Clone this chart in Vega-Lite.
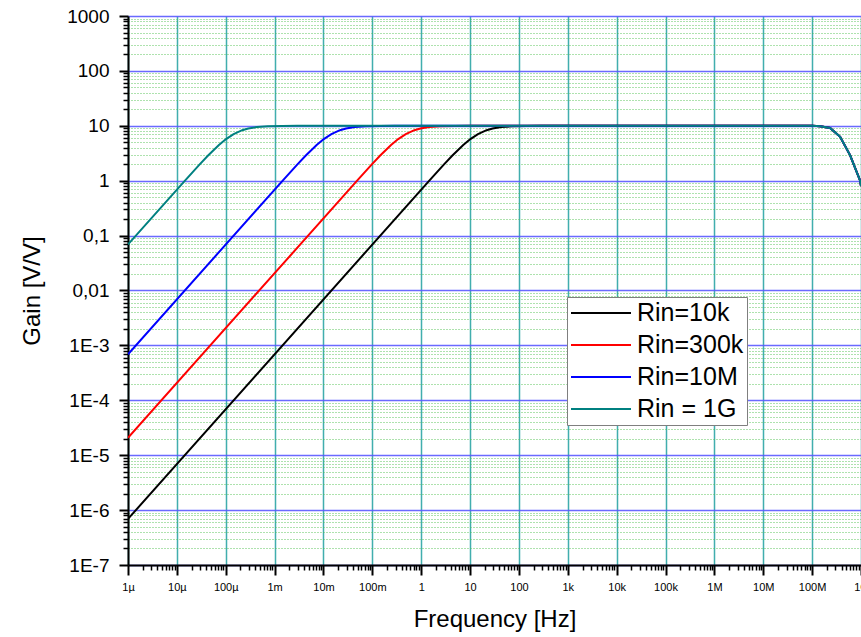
{
  "$schema": "https://vega.github.io/schema/vega-lite/v6.json",
  "width": 733,
  "height": 549,
  "autosize": {"type": "none"},
  "padding": {"left": 128, "top": 16, "right": 0, "bottom": 72},
  "background": "white",
  "config": {
    "view": {"stroke": null},
    "font": "Liberation Sans",
    "legend": {
      "orient": "none",
      "legendX": 439,
      "legendY": 281,
      "symbolType": "M-2.5,0H2.5",
      "symbolSize": 576,
      "symbolOffset": 18,
      "symbolStrokeWidth": 2,
      "labelFontSize": 25,
      "labelColor": "black",
      "labelFont": "Liberation Sans",
      "padding": 3,
      "rowPadding": 6,
      "labelOffset": 23,
      "strokeColor": "#7f7f7f",
      "fillColor": "white",
      "cornerRadius": 0
    }
  },
  "data": {"values": [
    {"s": "Rin=10k", "f": 1e-6, "g": 6.9e-7},
    {"s": "Rin=10k", "f": 1.45, "g": 0.995},
    {"s": "Rin=10k", "f": 2.9, "g": 1.961},
    {"s": "Rin=10k", "f": 4.35, "g": 2.873},
    {"s": "Rin=10k", "f": 7.25, "g": 4.472},
    {"s": "Rin=10k", "f": 10.15, "g": 5.735},
    {"s": "Rin=10k", "f": 14.5, "g": 7.071},
    {"s": "Rin=10k", "f": 21.75, "g": 8.321},
    {"s": "Rin=10k", "f": 29, "g": 8.944},
    {"s": "Rin=10k", "f": 43.5, "g": 9.487},
    {"s": "Rin=10k", "f": 72.5, "g": 9.806},
    {"s": "Rin=10k", "f": 145, "g": 9.95},
    {"s": "Rin=10k", "f": 290, "g": 9.988},
    {"s": "Rin=10k", "f": 725, "g": 9.998},
    {"s": "Rin=10k", "f": 1e8, "g": 9.97},
    {"s": "Rin=10k", "f": 1.46e8, "g": 9.8},
    {"s": "Rin=10k", "f": 2.33e8, "g": 9.1},
    {"s": "Rin=10k", "f": 3.74e8, "g": 6.3},
    {"s": "Rin=10k", "f": 6e8, "g": 2.9},
    {"s": "Rin=10k", "f": 9.6e8, "g": 1.0},
    {"s": "Rin=10k", "f": 1e9, "g": 0.8},

    {"s": "Rin=300k", "f": 1e-6, "g": 2.07e-5},
    {"s": "Rin=300k", "f": 0.0483, "g": 0.995},
    {"s": "Rin=300k", "f": 0.0966, "g": 1.961},
    {"s": "Rin=300k", "f": 0.1449, "g": 2.873},
    {"s": "Rin=300k", "f": 0.2415, "g": 4.472},
    {"s": "Rin=300k", "f": 0.3381, "g": 5.735},
    {"s": "Rin=300k", "f": 0.483, "g": 7.071},
    {"s": "Rin=300k", "f": 0.7245, "g": 8.321},
    {"s": "Rin=300k", "f": 0.966, "g": 8.944},
    {"s": "Rin=300k", "f": 1.449, "g": 9.487},
    {"s": "Rin=300k", "f": 2.415, "g": 9.806},
    {"s": "Rin=300k", "f": 4.83, "g": 9.95},
    {"s": "Rin=300k", "f": 9.66, "g": 9.988},
    {"s": "Rin=300k", "f": 24.15, "g": 9.998},
    {"s": "Rin=300k", "f": 1e8, "g": 9.97},
    {"s": "Rin=300k", "f": 1.46e8, "g": 9.8},
    {"s": "Rin=300k", "f": 2.33e8, "g": 9.1},
    {"s": "Rin=300k", "f": 3.74e8, "g": 6.3},
    {"s": "Rin=300k", "f": 6e8, "g": 2.9},
    {"s": "Rin=300k", "f": 9.6e8, "g": 1.0},
    {"s": "Rin=300k", "f": 1e9, "g": 0.8},

    {"s": "Rin=10M", "f": 1e-6, "g": 6.9e-4},
    {"s": "Rin=10M", "f": 0.00145, "g": 0.995},
    {"s": "Rin=10M", "f": 0.0029, "g": 1.961},
    {"s": "Rin=10M", "f": 0.00435, "g": 2.873},
    {"s": "Rin=10M", "f": 0.00725, "g": 4.472},
    {"s": "Rin=10M", "f": 0.01015, "g": 5.735},
    {"s": "Rin=10M", "f": 0.0145, "g": 7.071},
    {"s": "Rin=10M", "f": 0.02175, "g": 8.321},
    {"s": "Rin=10M", "f": 0.029, "g": 8.944},
    {"s": "Rin=10M", "f": 0.0435, "g": 9.487},
    {"s": "Rin=10M", "f": 0.0725, "g": 9.806},
    {"s": "Rin=10M", "f": 0.145, "g": 9.95},
    {"s": "Rin=10M", "f": 0.29, "g": 9.988},
    {"s": "Rin=10M", "f": 0.725, "g": 9.998},
    {"s": "Rin=10M", "f": 1e8, "g": 9.97},
    {"s": "Rin=10M", "f": 1.46e8, "g": 9.8},
    {"s": "Rin=10M", "f": 2.33e8, "g": 9.1},
    {"s": "Rin=10M", "f": 3.74e8, "g": 6.3},
    {"s": "Rin=10M", "f": 6e8, "g": 2.9},
    {"s": "Rin=10M", "f": 9.6e8, "g": 1.0},
    {"s": "Rin=10M", "f": 1e9, "g": 0.8},

    {"s": "Rin = 1G", "f": 1e-6, "g": 0.069},
    {"s": "Rin = 1G", "f": 1.45e-5, "g": 0.995},
    {"s": "Rin = 1G", "f": 2.9e-5, "g": 1.961},
    {"s": "Rin = 1G", "f": 4.35e-5, "g": 2.873},
    {"s": "Rin = 1G", "f": 7.25e-5, "g": 4.472},
    {"s": "Rin = 1G", "f": 1.015e-4, "g": 5.735},
    {"s": "Rin = 1G", "f": 1.45e-4, "g": 7.071},
    {"s": "Rin = 1G", "f": 2.175e-4, "g": 8.321},
    {"s": "Rin = 1G", "f": 2.9e-4, "g": 8.944},
    {"s": "Rin = 1G", "f": 4.35e-4, "g": 9.487},
    {"s": "Rin = 1G", "f": 7.25e-4, "g": 9.806},
    {"s": "Rin = 1G", "f": 1.45e-3, "g": 9.95},
    {"s": "Rin = 1G", "f": 2.9e-3, "g": 9.988},
    {"s": "Rin = 1G", "f": 7.25e-3, "g": 9.998},
    {"s": "Rin = 1G", "f": 1e8, "g": 9.97},
    {"s": "Rin = 1G", "f": 1.46e8, "g": 9.8},
    {"s": "Rin = 1G", "f": 2.33e8, "g": 9.1},
    {"s": "Rin = 1G", "f": 3.74e8, "g": 6.3},
    {"s": "Rin = 1G", "f": 6e8, "g": 2.9},
    {"s": "Rin = 1G", "f": 9.6e8, "g": 1.0},
    {"s": "Rin = 1G", "f": 1e9, "g": 0.8}
  ]},
  "resolve": {"axis": {"x": "independent", "y": "independent"}},
  "layer": [
    {
      "mark": {"type": "line", "strokeOpacity": 0, "clip": true},
      "encoding": {
        "x": {"field": "f", "type": "quantitative",
          "scale": {"type": "log", "domain": [1e-6, 1e9], "nice": false},
          "axis": {"orient": "bottom", "values": [2e-6,3e-6,4e-6,5e-6,6e-6,7e-6,8e-6,9e-6,2e-5,3e-5,4e-5,5e-5,6e-5,7e-5,8e-5,9e-5,2e-4,3e-4,4e-4,5e-4,6e-4,7e-4,8e-4,9e-4,2e-3,3e-3,4e-3,5e-3,6e-3,7e-3,8e-3,9e-3,0.02,0.03,0.04,0.05,0.06,0.07,0.08,0.09,0.2,0.3,0.4,0.5,0.6,0.7,0.8,0.9,2,3,4,5,6,7,8,9,20,30,40,50,60,70,80,90,200,300,400,500,600,700,800,900,2000,3000,4000,5000,6000,7000,8000,9000,2e4,3e4,4e4,5e4,6e4,7e4,8e4,9e4,2e5,3e5,4e5,5e5,6e5,7e5,8e5,9e5,2e6,3e6,4e6,5e6,6e6,7e6,8e6,9e6,2e7,3e7,4e7,5e7,6e7,7e7,8e7,9e7,2e8,3e8,4e8,5e8,6e8,7e8,8e8,9e8],
            "labels": false, "domain": false, "grid": false, "title": null,
            "tickSize": 5, "tickWidth": 1.5, "tickColor": "black"}},
        "y": {"field": "g", "type": "quantitative",
          "scale": {"type": "log", "domain": [1e-7, 1000], "nice": false},
          "axis": {"orient": "left", "values": [2e-7,3e-7,4e-7,5e-7,6e-7,7e-7,8e-7,9e-7,2e-6,3e-6,4e-6,5e-6,6e-6,7e-6,8e-6,9e-6,2e-5,3e-5,4e-5,5e-5,6e-5,7e-5,8e-5,9e-5,2e-4,3e-4,4e-4,5e-4,6e-4,7e-4,8e-4,9e-4,2e-3,3e-3,4e-3,5e-3,6e-3,7e-3,8e-3,9e-3,0.02,0.03,0.04,0.05,0.06,0.07,0.08,0.09,0.2,0.3,0.4,0.5,0.6,0.7,0.8,0.9,2,3,4,5,6,7,8,9,20,30,40,50,60,70,80,90,200,300,400,500,600,700,800,900],
            "labels": false, "domain": false, "title": null,
            "grid": true, "gridColor": "#4cbf4c", "gridDash": [1, 2], "gridWidth": 1, "gridOpacity": 0.9,
            "tickSize": 5, "tickWidth": 1.5, "tickColor": "black"}},
        "detail": {"field": "s"}
      }
    },
    {
      "mark": {"type": "line", "strokeWidth": 2, "clip": true},
      "encoding": {
        "x": {"field": "f", "type": "quantitative",
          "scale": {"type": "log", "domain": [1e-6, 1e9], "nice": false},
          "axis": {"orient": "bottom", "values": [1e-6,1e-5,1e-4,1e-3,0.01,0.1,1,10,100,1000,1e4,1e5,1e6,1e7,1e8,1e9],
            "labelExpr": "['1µ','10µ','100µ','1m','10m','100m','1','10','100','1k','10k','100k','1M','10M','100M','1G'][round(log(datum.value)/LN10)+6]",
            "labelFontSize": 11, "labelColor": "black", "labelPadding": 6, "labelFlush": false, "labelOverlap": false,
            "domainColor": "black", "domainWidth": 2,
            "tickSize": 10, "tickWidth": 2, "tickColor": "black",
            "grid": true, "gridColor": "#20a0a0", "gridWidth": 1.5, "gridOpacity": 0.85,
            "title": "Frequency [Hz]", "titleFontSize": 24, "titleFontWeight": "normal", "titleColor": "black", "titlePadding": 15}},
        "y": {"field": "g", "type": "quantitative",
          "scale": {"type": "log", "domain": [1e-7, 1000], "nice": false},
          "axis": {"orient": "left", "values": [1e-7,1e-6,1e-5,1e-4,1e-3,0.01,0.1,1,10,100,1000],
            "labelExpr": "datum.value >= 1 ? format(datum.value, 'd') : datum.value == 0.1 ? '0,1' : datum.value == 0.01 ? '0,01' : '1E-' + format(-round(log(datum.value)/LN10), 'd')",
            "labelFontSize": 19, "labelColor": "black", "labelPadding": 10, "labelFlush": false, "labelOverlap": false,
            "domainColor": "black", "domainWidth": 2,
            "tickSize": 9, "tickWidth": 2, "tickColor": "black",
            "grid": true, "gridColor": "#5a5aff", "gridWidth": 1.5, "gridOpacity": 0.9,
            "title": "Gain [V/V]", "titleFontSize": 24, "titleFontWeight": "normal", "titleColor": "black", "titlePadding": 22}},
        "color": {"field": "s", "type": "nominal",
          "scale": {"domain": ["Rin=10k", "Rin=300k", "Rin=10M", "Rin = 1G"], "range": ["#000000", "#ff0000", "#0000ff", "#008080"]},
          "legend": {"title": null}}
      }
    }
  ]
}
